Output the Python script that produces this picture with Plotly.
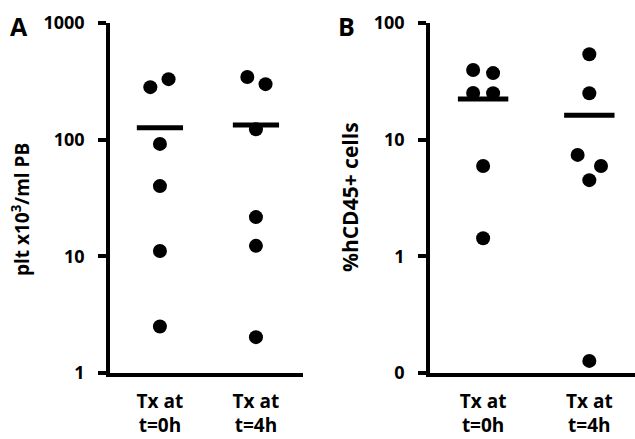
import plotly.graph_objects as go
from plotly.subplots import make_subplots

categories = ["Tx at<br>t=0h", "Tx at<br>t=4h"]

# Panel A: platelets (x10^3/ml PB)
plt_0h = [282, 330, 92, 40, 11.1, 2.5]
plt_4h = [344, 299, 123, 21.7, 12.3, 2.03]
plt_0h_jit = [-0.10, 0.09, 0, 0, 0, 0]
plt_4h_jit = [-0.09, 0.10, 0, 0, 0, 0]

# Panel B: %hCD45+ cells
cd_0h = [39.5, 37.2, 25.1, 25.0, 5.94, 1.43]
cd_4h = [54, 25, 7.4, 5.94, 4.5, 0.127]
cd_0h_jit = [-0.094, 0.094, -0.094, 0.094, 0, 0]
cd_4h_jit = [0, 0, -0.11, 0.11, 0, 0]

ticks_a = [1, 10, 100, 1000]
ticks_a_text = ["1", "10", "100", "1000"]
ticks_b = [0.1, 1, 10, 100]
ticks_b_text = ["0", "1", "10", "100"]

FONT = "Open Sans"

def mean(v):
    return sum(v) / len(v)

fig = make_subplots(rows=1, cols=2)

def add_panel(col, g0, g1, j0, j1, mark_w):
    for idx, (vals, jit) in enumerate([(g0, j0), (g1, j1)]):
        fig.add_trace(go.Scatter(
            x=[idx + j for j in jit], y=vals, mode="markers",
            marker=dict(size=14, color="black"), showlegend=False,
            hoverinfo="y"), row=1, col=col)
    fig.add_trace(go.Scatter(
        x=[0, 1], y=[mean(g0), mean(g1)], mode="markers",
        marker=dict(symbol="line-ew", size=mark_w,
                    line=dict(width=5, color="black")),
        showlegend=False, hoverinfo="y"), row=1, col=col)

add_panel(1, plt_0h, plt_4h, plt_0h_jit, plt_4h_jit, 33)
add_panel(2, cd_0h, cd_4h, cd_0h_jit, cd_4h_jit, 36)

tickfont = dict(family=FONT, size=18, color="black", weight="bold")

xcommon = dict(showline=True, linewidth=3.5, linecolor="black", showgrid=False,
               zeroline=False, ticks="", tickmode="array", tickvals=[0, 1],
               ticktext=categories,
               tickfont=dict(family=FONT, size=19, color="black", weight="bold"),
               automargin=False, ticklabelstandoff=8)
ycommon = dict(type="log", showline=True, linewidth=3.5, linecolor="black",
               showgrid=False, zeroline=False, ticks="outside", ticklen=8,
               tickwidth=3.5, tickcolor="black", tickfont=tickfont,
               automargin=False, ticklabelstandoff=10)

fig.update_xaxes(xcommon)
fig.update_yaxes(ycommon)
fig.update_layout(
    xaxis=dict(domain=[110/635, 303/635], range=[-0.52, 1.49]),
    xaxis2=dict(domain=[430/635, 1.0], range=[-0.5, 1.43]),
    yaxis=dict(domain=[(439-373)/439, (439-23)/439], range=[0, 3],
               tickvals=ticks_a, ticktext=ticks_a_text),
    yaxis2=dict(domain=[(439-373)/439, (439-23)/439], range=[-1, 2],
                tickvals=ticks_b, ticktext=ticks_b_text),
    width=635, height=439,
    margin=dict(l=0, r=0, t=0, b=0),
    paper_bgcolor="white", plot_bgcolor="white",
    annotations=[
        dict(text="plt x10<sup>3</sup>/ml PB", x=21/635, y=(439-210)/439,
             xref="paper", yref="paper", textangle=-90, showarrow=False,
             font=dict(family=FONT, size=19, color="black", weight="bold"),
             xanchor="center", yanchor="middle"),
        dict(text="%hCD45+ cells", x=350/635, y=(439-197)/439,
             xref="paper", yref="paper", textangle=-90, showarrow=False,
             font=dict(family=FONT, size=21, color="black", weight="bold"),
             xanchor="center", yanchor="middle"),
        dict(text="A", x=19/635, y=(439-26)/439, xref="paper", yref="paper",
             showarrow=False, xanchor="center", yanchor="middle",
             font=dict(family=FONT, size=25, color="black", weight="bold")),
        dict(text="B", x=346/635, y=(439-26)/439, xref="paper", yref="paper",
             showarrow=False, xanchor="center", yanchor="middle",
             font=dict(family=FONT, size=25, color="black", weight="bold")),
    ],
)

fig.write_html("out.html", config={"displayModeBar": False},
               post_script="document.body.style.margin='0';")
